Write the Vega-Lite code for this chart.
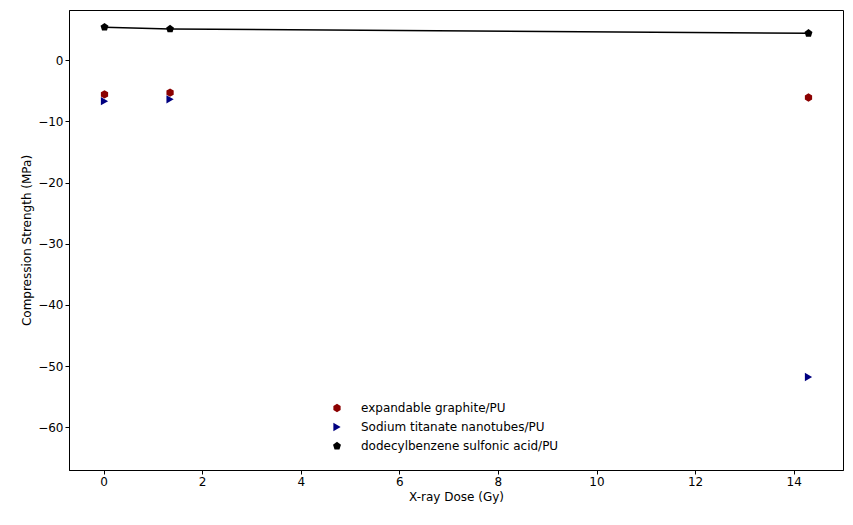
{
  "$schema": "https://vega.github.io/schema/vega-lite/v6.json",
  "autosize": "none",
  "padding": {"left": 69, "top": 10, "right": 10, "bottom": 55},
  "width": 774,
  "height": 460,
  "background": "white",
  "config": {
    "view": {"stroke": "black", "strokeWidth": 1},
    "axis": {"grid": false, "domainColor": "black", "tickColor": "black", "labelColor": "black", "titleColor": "black", "labelFont": "DejaVu Sans", "titleFont": "DejaVu Sans", "labelFontSize": 12, "titleFontSize": 12, "titleFontWeight": "normal", "tickSize": 4},
    "legend": {"labelFont": "DejaVu Sans", "labelFontSize": 12, "labelColor": "black", "labelLimit": 400}
  },
  "data": {
    "values": [
      {"dose": 0.02, "strength": -5.6, "material": "expandable graphite/PU"},
      {"dose": 1.35, "strength": -5.3, "material": "expandable graphite/PU"},
      {"dose": 14.3, "strength": -6.1, "material": "expandable graphite/PU"},
      {"dose": 0.02, "strength": -6.7, "material": "Sodium titanate nanotubes/PU"},
      {"dose": 1.35, "strength": -6.4, "material": "Sodium titanate nanotubes/PU"},
      {"dose": 14.3, "strength": -51.8, "material": "Sodium titanate nanotubes/PU"},
      {"dose": 0.02, "strength": 5.4, "material": "dodecylbenzene sulfonic acid/PU"},
      {"dose": 1.35, "strength": 5.1, "material": "dodecylbenzene sulfonic acid/PU"},
      {"dose": 14.3, "strength": 4.4, "material": "dodecylbenzene sulfonic acid/PU"}
    ]
  },
  "encoding": {
    "x": {"field": "dose", "type": "quantitative", "title": "X-ray Dose (Gy)", "scale": {"domain": [-0.7, 15], "nice": false, "zero": false}, "axis": {"values": [0, 2, 4, 6, 8, 10, 12, 14]}},
    "y": {"field": "strength", "type": "quantitative", "title": "Compression Strength (MPa)", "scale": {"domain": [-67, 8.2], "nice": false, "zero": false}, "axis": {"values": [0, -10, -20, -30, -40, -50, -60]}}
  },
  "layer": [
    {
      "transform": [{"filter": "datum.material === 'dodecylbenzene sulfonic acid/PU'"}],
      "mark": {"type": "line", "color": "black", "strokeWidth": 1.5}
    },
    {
      "mark": {"type": "point", "filled": true, "opacity": 1, "size": 70},
      "encoding": {
        "color": {"field": "material", "type": "nominal", "sort": null, "scale": {"domain": ["expandable graphite/PU", "Sodium titanate nanotubes/PU", "dodecylbenzene sulfonic acid/PU"], "range": ["#8b0000", "#000080", "black"]}, "legend": {"title": null, "orient": "none", "legendX": 262, "legendY": 392, "symbolSize": 70, "rowPadding": 7, "labelOffset": 18}},
        "shape": {"field": "material", "type": "nominal", "scale": {"domain": ["expandable graphite/PU", "Sodium titanate nanotubes/PU", "dodecylbenzene sulfonic acid/PU"], "range": ["M0,-1L0.866,-0.5L0.866,0.5L0,1L-0.866,0.5L-0.866,-0.5Z", "triangle-right", "M0,-1L0.951,-0.309L0.588,0.809L-0.588,0.809L-0.951,-0.309Z"]}, "legend": null}
      }
    }
  ]
}
